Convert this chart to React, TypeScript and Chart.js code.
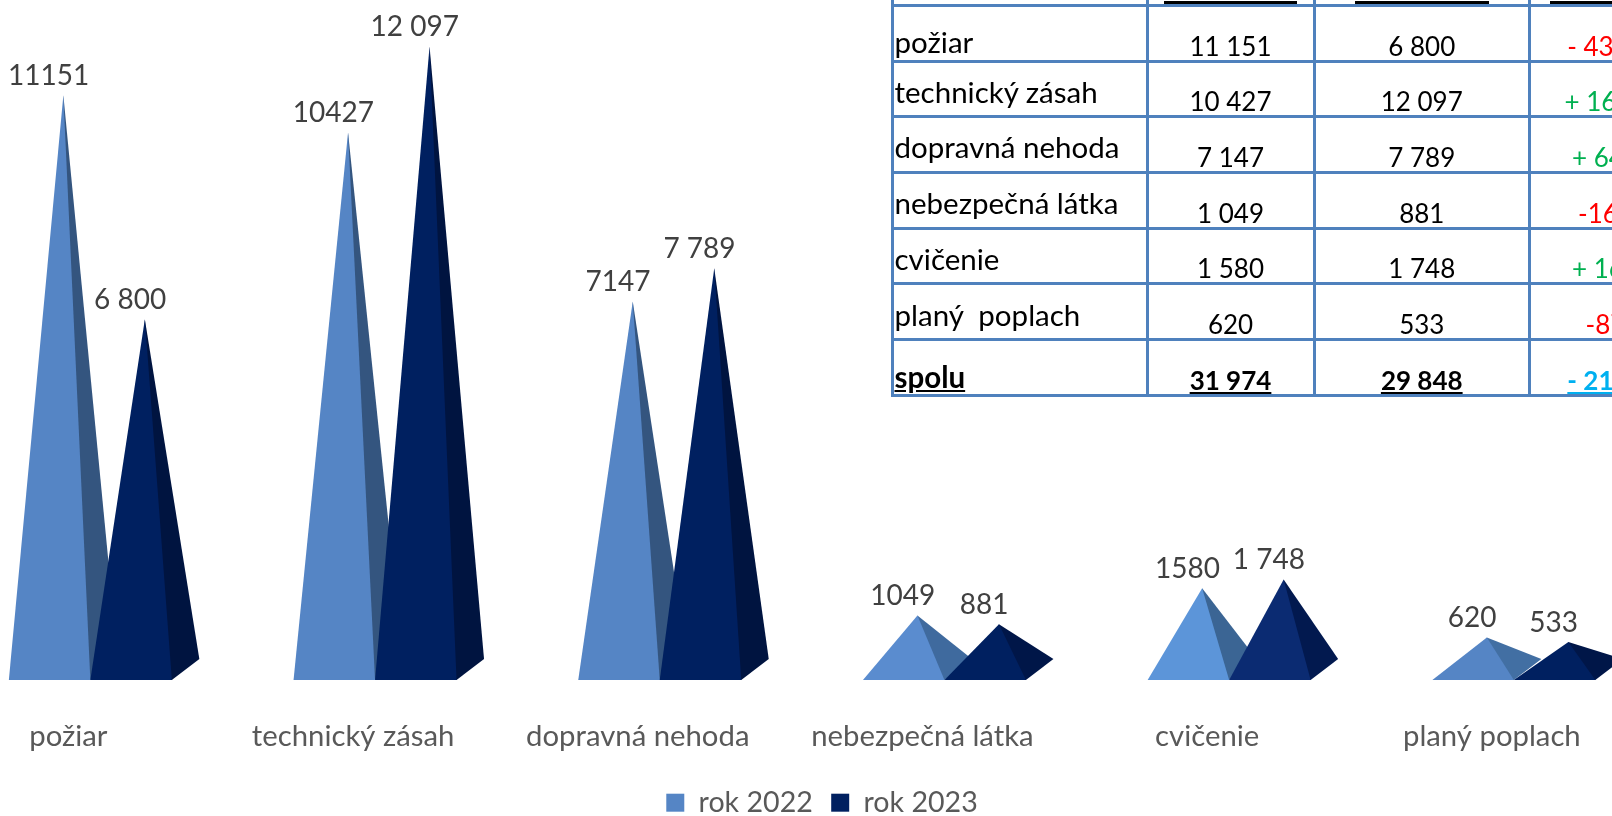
import React, { useEffect, useRef } from "react";
import { Chart, registerables, BarController, BarElement } from "chart.js";

const categories = ["požiar", "technický zásah", "dopravná nehoda", "nebezpečná látka", "cvičenie", "planý poplach"];
const values2022 = [11151, 10427, 7147, 1049, 1580, 620];
const values2023 = [6800, 12097, 7789, 881, 1748, 533];
const labels2022 = ["11151", "10427", "7147", "1049", "1580", "620"];
const labels2023 = ["6 800", "12 097", "7 789", "881", "1 748", "533"];
const front2022 = ["#5585c5", "#5585c5", "#5585c5", "#5a8ccf", "#5c95d9", "#5585c5"];
const side2022 = ["#34557f", "#34557f", "#34557f", "#3f6a9e", "#3b6594", "#426fa3"];
const front2023 = ["#002060", "#002060", "#002060", "#002060", "#0b2b72", "#002060"];
const side2023 = ["#001440", "#001440", "#001440", "#001648", "#02194f", "#001648"];

const tableRows = [
  ["požiar", "11 151", "6 800", "- 4351"],
  ["technický zásah", "10 427", "12 097", "+ 1670"],
  ["dopravná nehoda", "7 147", "7 789", "+ 642"],
  ["nebezpečná látka", "1 049", "881", "-168"],
  ["cvičenie", "1 580", "1 748", "+ 168"],
  ["planý  poplach", "620", "533", "-87"],
];
const tableTotal = ["spolu", "31 974", "29 848", "- 2126"];
const diffColors = ["#ff0000", "#00b050", "#00b050", "#ff0000", "#00b050", "#ff0000"];

const FONT = "Lato";

class PyramidElement extends BarElement {
  static id = "pyramid";
  draw(ctx: CanvasRenderingContext2D) {
    const { x, y, base, width } = (this as any).getProps(["x", "y", "base", "width"]);
    const o = (this as any).options;
    const depthX = 27.5;
    const depthY = 10.5;
    const apexX = x + depthX / 2;
    const right = x + width / 2;
    const left = x - width / 2;
    ctx.save();
    ctx.fillStyle = o.borderColor;
    ctx.beginPath();
    ctx.moveTo(x, base + depthY - 1);
    ctx.lineTo(right, base + depthY);
    ctx.lineTo(right + depthX, base - depthY);
    ctx.lineTo(apexX, y);
    ctx.closePath();
    ctx.fill();
    ctx.fillStyle = o.backgroundColor;
    ctx.beginPath();
    ctx.moveTo(left, base + depthY);
    ctx.lineTo(right, base + depthY);
    ctx.lineTo(apexX, y);
    ctx.closePath();
    ctx.fill();
    ctx.restore();
  }
}

class PyramidController extends BarController {
  static id = "pyramid";
  static defaults = { dataElementType: "pyramid" };
  // The library paints datasets last-to-first and clips them to the chart area;
  // the pyramids are painted by the plugin below, first-to-last and unclipped.
  draw() {}
}

Chart.register(...registerables, PyramidElement as any, PyramidController as any);

const pyramidPainter = {
  id: "pyramidPainter",
  afterDatasetsDraw(chart: any) {
    const { ctx } = chart;
    chart.data.datasets.forEach((_: any, d: number) => {
      chart.getDatasetMeta(d).data.forEach((el: any) => el.draw(ctx));
    });
    ctx.save();
    ctx.font = `28px ${FONT}`;
    ctx.fillStyle = "#404040";
    ctx.textAlign = "center";
    ctx.textBaseline = "middle";
    chart.data.datasets.forEach((ds: any, d: number) => {
      chart.getDatasetMeta(d).data.forEach((el: any, i: number) => {
        ctx.fillText(ds.valueTexts[i], el.x - 1, el.y - 19.5);
      });
    });
    ctx.restore();
  },
};

const border = "3px solid #4f81bd";
const cell: React.CSSProperties = { border, padding: 0, verticalAlign: "bottom", textAlign: "center", overflow: "hidden", whiteSpace: "pre" };

function Row({ row, color, total, first }: { row: string[]; color: string; total: boolean; first: boolean }) {
  const t: React.CSSProperties = total ? { fontWeight: 700, textDecoration: "underline" } : {};
  const v: React.CSSProperties = { ...cell, ...t, lineHeight: "25px", paddingBottom: 1 };
  return (
    <tr style={{ height: 55.7 }}>
      <td style={{ ...cell, ...t, textAlign: "left", paddingLeft: 1, fontSize: 29.5, lineHeight: "33px", paddingBottom: first ? 1.6 : total ? 0.6 : 7.6 }}>{row[0]}</td>
      <td style={v}>{row[1]}</td>
      <td style={v}>{row[2]}</td>
      <td style={{ ...v, color }}>{row[3]}</td>
      <td style={{ ...cell }} />
    </tr>
  );
}

export default function App() {
  const ref = useRef<HTMLCanvasElement>(null);
  useEffect(() => {
    const chart = new Chart(ref.current!, {
      type: "pyramid" as any,
      data: {
        labels: categories,
        datasets: [
          { label: "rok 2022", data: values2022, backgroundColor: front2022, borderColor: side2022, borderWidth: 0, valueTexts: labels2022 } as any,
          { label: "rok 2023", data: values2023, backgroundColor: front2023, borderColor: side2023, borderWidth: 0, valueTexts: labels2023 } as any,
        ],
      },
      plugins: [pyramidPainter],
      options: {
        animation: false,
        responsive: false,
        events: [],
        layout: { padding: 0 },
        datasets: { pyramid: { categoryPercentage: 0.5725, barPercentage: 1 } } as any,
        scales: {
          x: {
            type: "category",
            offset: true,
            grid: { display: false },
            border: { display: false },
            ticks: { autoSkip: false, maxRotation: 0, padding: 41, labelOffset: -22, color: "#595959", font: { family: FONT, size: 29.3 } },
            afterFit: (s: any) => { s.height = 100.5; },
          },
          y: {
            type: "linear",
            position: "right",
            min: 0,
            max: 13000,
            grid: { display: false },
            border: { display: false },
            ticks: { display: false },
            afterFit: (s: any) => { s.width = 39.8; },
          },
        },
        plugins: {
          tooltip: { enabled: false },
          legend: {
            position: "bottom",
            labels: { boxWidth: 18, boxHeight: 18, padding: 18.4, color: "#595959", font: { family: FONT, size: 28.6 } },
          },
        },
      } as any,
    });
    return () => chart.destroy();
  }, []);

  return (
    <div style={{ position: "fixed", left: 0, top: 0, width: 1612, height: 816, overflow: "hidden", background: "#fff" }}>
      <canvas ref={ref} width={1748} height={827} style={{ position: "absolute", left: -52, top: 0, width: 1748, height: 827 }} />
      <table style={{ position: "absolute", left: 890.5, top: -32, tableLayout: "fixed", borderCollapse: "collapse", width: 789.5, fontFamily: FONT, fontSize: 26, color: "#000" }}>
        <colgroup>
          <col style={{ width: 255 }} />
          <col style={{ width: 167 }} />
          <col style={{ width: 215.5 }} />
          <col style={{ width: 152 }} />
          <col style={{ width: 0 }} />
        </colgroup>
        <tbody>
          <tr style={{ height: 36 }}>
            <td style={cell} />
            {[133, 134, 112].map((w, i) => (
              <td key={i} style={cell}>
                <div style={{ width: w, height: 3, background: "#000", margin: "0 auto" }} />
              </td>
            ))}
            <td style={cell} />
          </tr>
          {tableRows.map((r, i) => <Row key={i} row={r} color={diffColors[i]} total={false} first={i === 0} />)}
          <Row row={tableTotal} color="#00b0f0" total first={false} />
        </tbody>
      </table>
    </div>
  );
}
